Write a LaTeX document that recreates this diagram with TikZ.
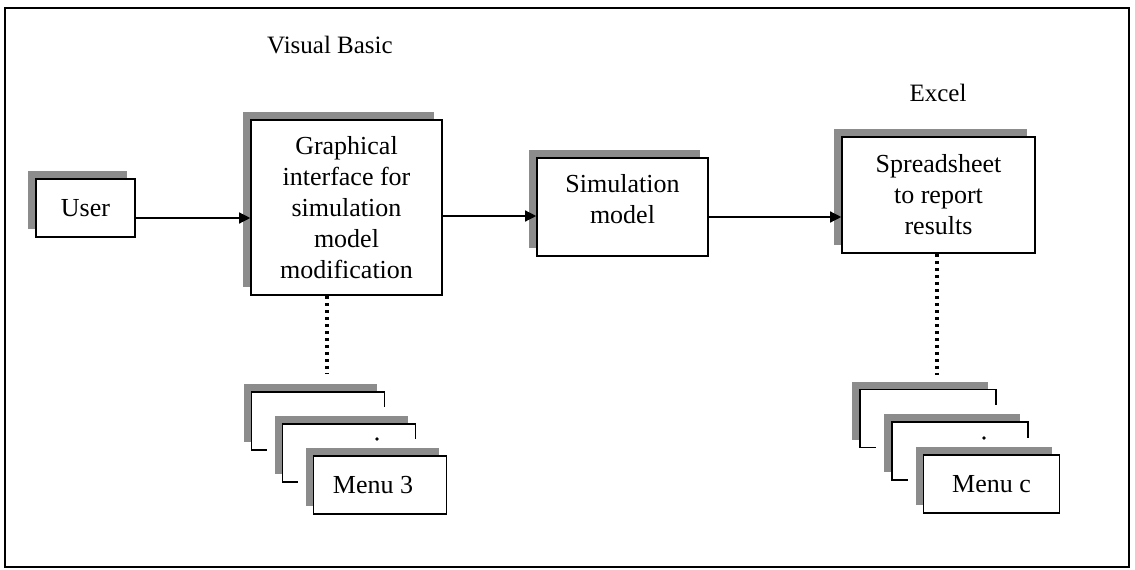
\documentclass[tikz,border=0pt]{standalone}
\usepackage{fontspec}
\setmainfont{Liberation Serif}
\usetikzlibrary{arrows.meta,shadows}
\definecolor{shadowc}{gray}{0.55}
\tikzset{
 shad/.style={drop shadow={shadow xshift=-8pt, shadow yshift=8pt, fill=shadowc, opacity=1}},
 box/.style={draw, line width=1.6pt, fill=white, align=center, inner sep=0pt,
   font=\fontsize{26}{31}\selectfont, shad},
 menubox/.style={box, minimum height=58pt},
 txt/.style={align=center, inner sep=0pt, font=\fontsize{26}{31}\selectfont},
 arr/.style={line width=1.3pt, -{Triangle[length=11pt,width=11pt]}},
 dotline/.style={line width=3.5pt, dash pattern=on 3.5pt off 3.5pt},
 lbl/.style={font=\fontsize{25}{30}\selectfont, inner sep=0pt},
 frame/.style={line width=1.6pt}
}
\newcommand\mlayer[5]{%
  \fill[white] (#2-#4/2-16, #3-46) rectangle (#2+#4/2, #3+29);
  \node[menubox, minimum width=#4pt] (#1) at (#2,#3) {#5};
}
\begin{document}
\begin{tikzpicture}[x=1pt, y=-1pt]
\useasboundingbox (0,0) rectangle (1135,570);
\draw[frame] (5,8) rectangle (1129,567);

% titles
\node[lbl] (vb) at (330,45) {Visual Basic};
\node[lbl] (ex) at (938,93) {Excel};

% main boxes
\node[box, minimum width=99pt, minimum height=58pt] (U) at (85.5,208) {User};
\node[box, minimum width=191pt, minimum height=175pt] (G) at (346.5,207.5)
  {Graphical\\interface for\\simulation\\model\\modification};
\node[box, minimum width=171pt, minimum height=98pt] (S) at (622.5,207) {};
\node[txt] (St) at (622.5,199) {Simulation\\model};
\node[box, minimum width=193pt, minimum height=116pt] (X) at (938.5,195)
  {Spreadsheet\\to report\\results};

% arrows
\draw[arr] ([yshift=-10pt]U.east) -- ([yshift=-10pt]U.east -| G.west);
\draw[arr] ([yshift=-8.5pt]G.east) -- ([yshift=-8.5pt]G.east -| S.west);
\draw[arr] ([yshift=-10pt]S.east) -- ([yshift=-10pt]S.east -| X.west);

% left menu stack
\mlayer{L1}{318}{421}{133}{}
\mlayer{L2}{349}{453}{133}{}
\mlayer{L3}{380}{485}{133}{Menu 3\hspace*{14pt}}
\fill ([shift={(28pt,14pt)}]L2.center) circle (1.8pt);

% right menu stack
\mlayer{R1}{928}{418.5}{136}{}
\mlayer{R2}{960}{451}{136}{}
\mlayer{R3}{991.5}{484}{136}{Menu c}
\fill ([shift={(24pt,13pt)}]R2.center) circle (1.8pt);

% dotted connectors
\draw[dotline, shorten >=17pt] ([xshift=-19.5pt]G.south) -- ([xshift=-19.5pt]G.south |- L1.north);
\draw[dotline, shorten >=14pt] ([xshift=-1.5pt]X.south) -- ([xshift=-1.5pt]X.south |- R1.north);
\end{tikzpicture}
\end{document}
